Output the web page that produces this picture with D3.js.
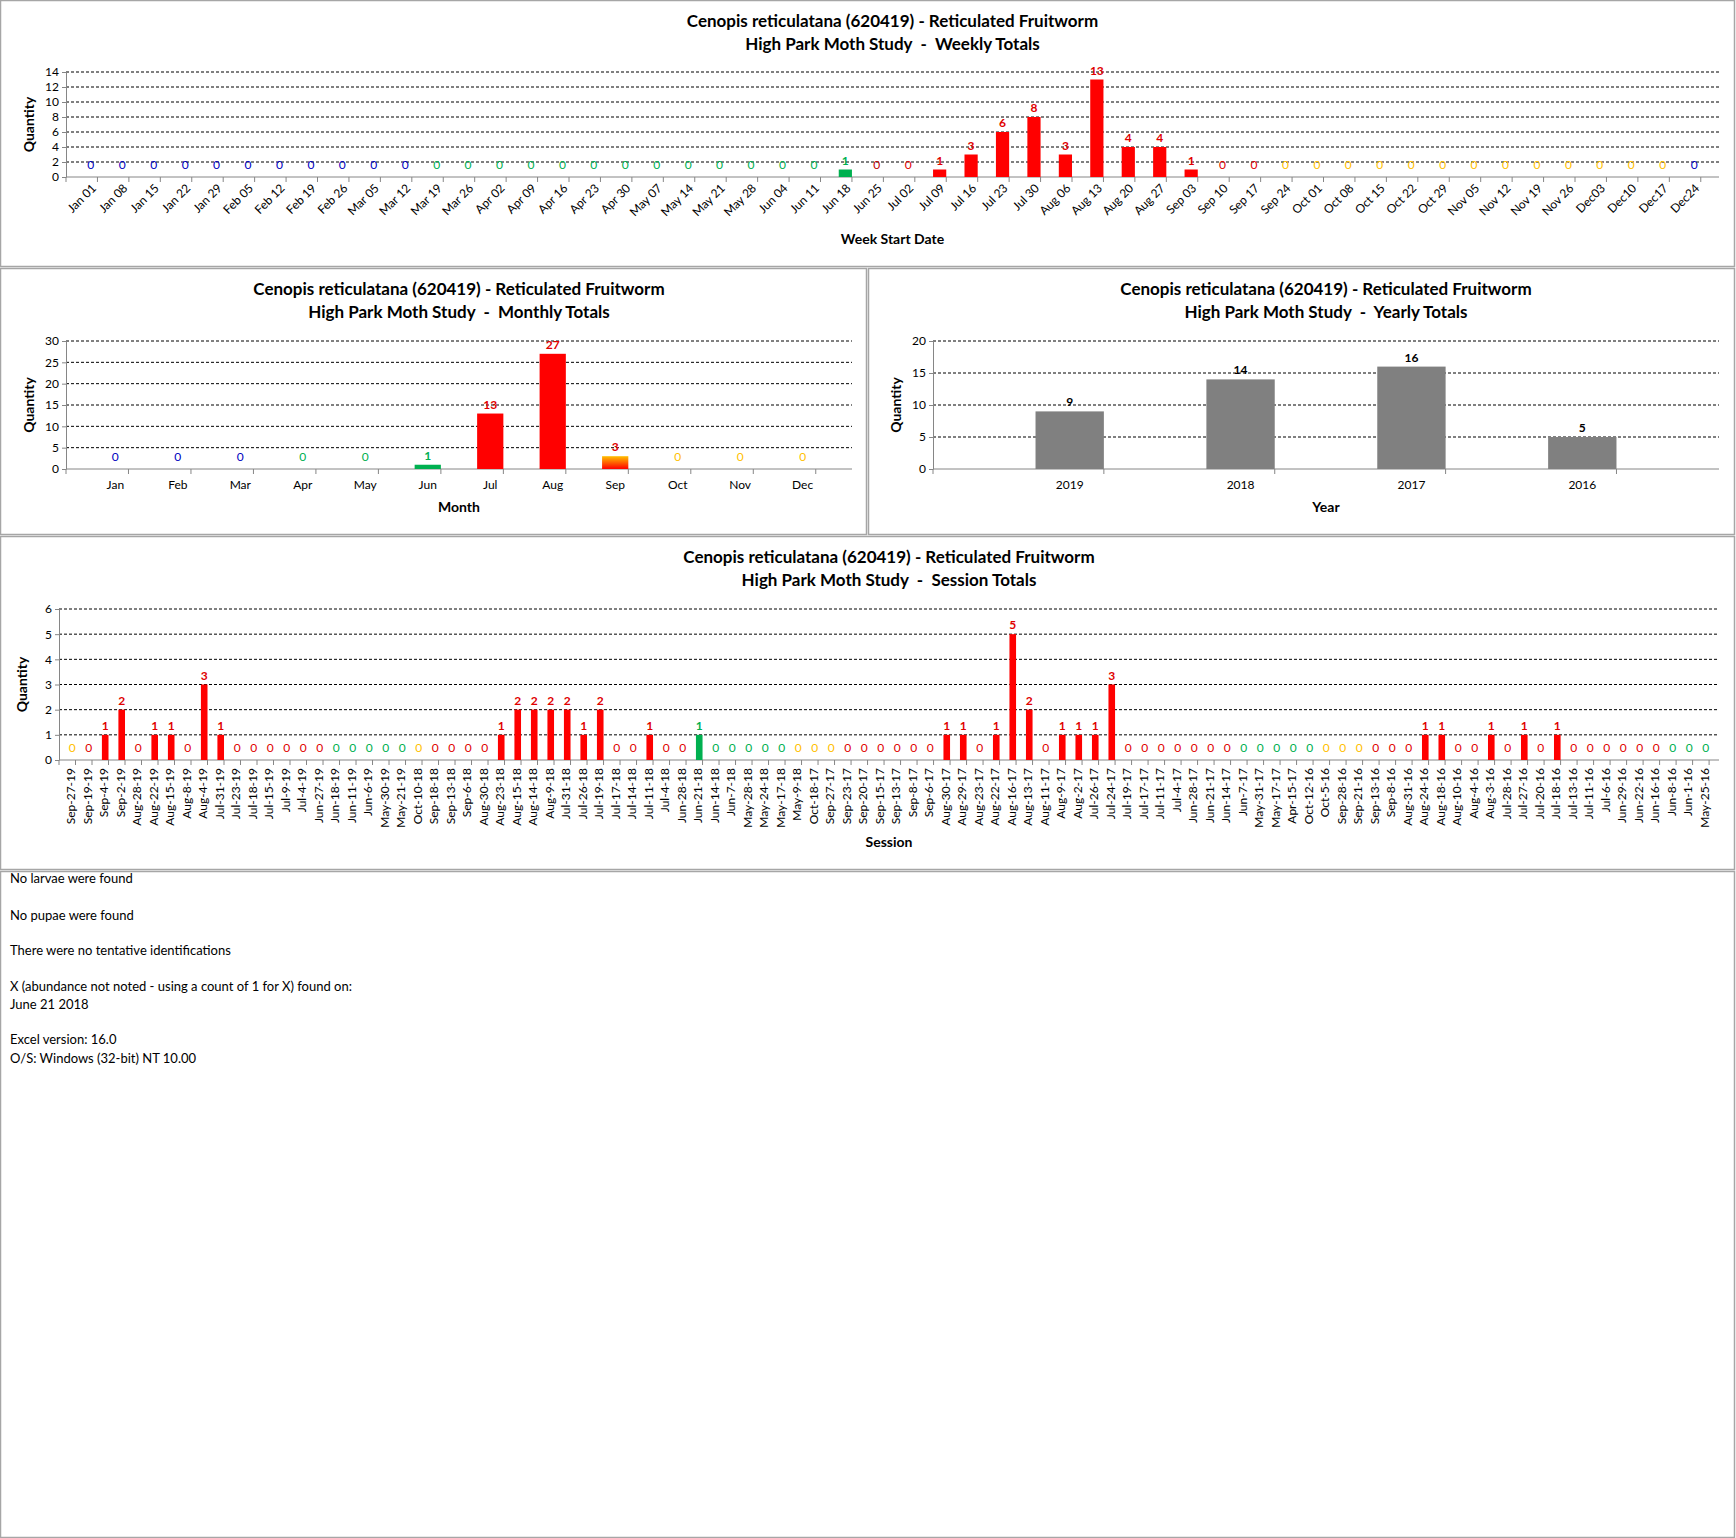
<!DOCTYPE html>
<html><head><meta charset="utf-8">
<script src="https://cdn.jsdelivr.net/npm/d3@7"></script>
<style>
body{margin:0;background:#fff;font-family:Lato,"Open Sans",sans-serif;}
svg text{font-family:Lato,"Open Sans",sans-serif;}
</style></head>
<body><svg id="page" width="1736" height="1538"></svg>
<script>
// ---- data ----
const titleLine1 = "Cenopis reticulatana (620419)  - Reticulated Fruitworm";

const weekLabels = ["Jan 01","Jan 08","Jan 15","Jan 22","Jan 29","Feb 05","Feb 12","Feb 19","Feb 26","Mar 05","Mar 12","Mar 19","Mar 26","Apr 02","Apr 09","Apr 16","Apr 23","Apr 30","May 07","May 14","May 21","May 28","Jun 04","Jun 11","Jun 18","Jun 25","Jul 02","Jul 09","Jul 16","Jul 23","Jul 30","Aug 06","Aug 13","Aug 20","Aug 27","Sep 03","Sep 10","Sep 17","Sep 24","Oct 01","Oct 08","Oct 15","Oct 22","Oct 29","Nov 05","Nov 12","Nov 19","Nov 26","Dec03","Dec10","Dec17","Dec24"];
const weekValues = [0,0,0,0,0,0,0,0,0,0,0,0,0,0,0,0,0,0,0,0,0,0,0,0,1,0,0,1,3,6,8,3,13,4,4,1,0,0,0,0,0,0,0,0,0,0,0,0,0,0,0,0];
const weekColors = "bbbbbbbbbbbggggggggggggggjrrrrrrrrrrrryyyyyyyyyyyyybb";

const monthLabels = ["Jan","Feb","Mar","Apr","May","Jun","Jul","Aug","Sep","Oct","Nov","Dec"];
const monthValues = [0,0,0,0,0,1,13,27,3,0,0,0];
const monthColors = "bbbggjrrsyyy";

const yearLabels = ["2019","2018","2017","2016"];
const yearValues = [9,14,16,5];

const sessionLabels = ["Sep-27-19","Sep-19-19","Sep-4-19","Sep-2-19","Aug-28-19","Aug-22-19","Aug-15-19","Aug-8-19","Aug-4-19","Jul-31-19","Jul-23-19","Jul-18-19","Jul-15-19","Jul-9-19","Jul-4-19","Jun-27-19","Jun-18-19","Jun-11-19","Jun-6-19","May-30-19","May-21-19","Oct-10-18","Sep-18-18","Sep-13-18","Sep-6-18","Aug-30-18","Aug-23-18","Aug-15-18","Aug-14-18","Aug-9-18","Jul-31-18","Jul-26-18","Jul-19-18","Jul-17-18","Jul-14-18","Jul-11-18","Jul-4-18","Jun-28-18","Jun-21-18","Jun-14-18","Jun-7-18","May-28-18","May-24-18","May-17-18","May-9-18","Oct-18-17","Sep-27-17","Sep-23-17","Sep-20-17","Sep-15-17","Sep-13-17","Sep-8-17","Sep-6-17","Aug-30-17","Aug-29-17","Aug-23-17","Aug-22-17","Aug-16-17","Aug-13-17","Aug-11-17","Aug-9-17","Aug-2-17","Jul-26-17","Jul-24-17","Jul-19-17","Jul-17-17","Jul-11-17","Jul-4-17","Jun-28-17","Jun-21-17","Jun-14-17","Jun-7-17","May-31-17","May-17-17","Apr-15-17","Oct-12-16","Oct-5-16","Sep-28-16","Sep-21-16","Sep-13-16","Sep-8-16","Aug-31-16","Aug-24-16","Aug-18-16","Aug-10-16","Aug-4-16","Aug-3-16","Jul-28-16","Jul-27-16","Jul-20-16","Jul-18-16","Jul-13-16","Jul-11-16","Jul-6-16","Jun-29-16","Jun-22-16","Jun-16-16","Jun-8-16","Jun-1-16","May-25-16"];
const sessionValues = [0,0,1,2,0,1,1,0,3,1, 0,0,0,0,0,0,0,0,0,0, 0,0,0,0,0,0,1,2,2,2, 2,1,2,0,0,1,0,0,1,0, 0,0,0,0,0,0,0,0,0,0, 0,0,0,1,1,0,1,5,2,0, 1,1,1,3,0,0,0,0,0,0, 0,0,0,0,0,0,0,0,0,0, 0,0,1,1,0,0,1,0,1,0, 1,0,0,0,0,0,0,0,0,0];
const sessionColors = "yrrrrrrrrrrrrrrrgggggyrrrrrrrrrrrrrrrrggggggyyyrrrrrrrrrrrrrrrrrrrrrrrrgggggyyyrrrrrrrrrrrrrrrrrrgggg";

const notes = ["No larvae were found","No pupae were found","There were no tentative identifications","X (abundance not noted - using a count of 1 for X) found on:","June 21 2018","Excel version: 16.0","O/S: Windows (32-bit) NT 10.00"];

// ---- styles ----
const labelColor = {b:"#0000c0", g:"#00b050", r:"#e00000", y:"#ffc000", j:"#c00000", s:"#e00000"};
const barFill = {b:"#0000c0", g:"#00b050", r:"#ff0000", y:"#ffc000", j:"url(#gJun)", s:"url(#gSep)"};

const svg = d3.select("#page");
const defs = svg.append("defs");
function grad(id, top, bottom) {
  const g = defs.append("linearGradient").attr("id", id).attr("x1",0).attr("x2",0).attr("y1",0).attr("y2",1);
  g.append("stop").attr("offset","0%").attr("stop-color", top);
  g.append("stop").attr("offset","100%").attr("stop-color", bottom);
}
grad("gJun", "#c0301a", "#3f9a10");
grad("gSep", "#ffc000", "#ff0000");

// panel frames
const frames = [[0,0,1734,266],[0,268,866,266],[868,268,866,266],[0,536,1734,333],[0,871,1734,666]];
frames.forEach(f => svg.append("rect").attr("x",f[0]+0.5).attr("y",f[1]+0.5).attr("width",f[2]).attr("height",f[3])
  .attr("fill","none").attr("stroke","#a6a6a6").attr("stroke-width",1.5));

function barChart(c) {
  const x = d3.scaleBand().domain(d3.range(c.labels.length)).range([c.x0, c.x1]).padding(c.pad);
  const y = d3.scaleLinear().domain([0, c.max]).range([c.yb, c.yt]);
  const g = svg.append("g");
  const cx = (c.x0 + c.x1) / 2;

  g.append("text").attr("x", cx).attr("y", c.ty).attr("text-anchor","middle")
    .attr("font-size",17).attr("font-weight","bold").text(titleLine1);
  g.append("text").attr("x", cx).attr("y", c.ty + 23).attr("text-anchor","middle")
    .attr("font-size",17).attr("font-weight","bold").attr("xml:space","preserve").text(c.sub);

  // gridlines
  g.selectAll(".grid").data(y.ticks(c.nticks).filter(v => v > 0)).join("line")
    .attr("x1", c.x0).attr("x2", c.x1).attr("y1", d => y(d)).attr("y2", d => y(d))
    .attr("stroke","#000").attr("stroke-dasharray","3,2").attr("stroke-width",1);

  // y axis
  const ya = g.append("g").attr("transform", `translate(${c.x0},0)`)
    .call(d3.axisLeft(y).ticks(c.nticks).tickSize(4).tickSizeOuter(0));
  ya.select(".domain").attr("stroke","#868686");
  ya.selectAll(".tick line").attr("stroke","#868686");
  ya.selectAll(".tick text").attr("font-size",12).attr("fill","#000");

  g.append("text").attr("transform", `translate(${c.x0 - 32},${(c.yt + c.yb) / 2}) rotate(-90)`)
    .attr("text-anchor","middle").attr("font-size",14).attr("font-weight","bold").text("Quantity");

  // x axis with ticks at category boundaries
  g.append("line").attr("x1", c.x0).attr("x2", c.x1).attr("y1", c.yb).attr("y2", c.yb).attr("stroke","#868686");
  const step = x.step();
  g.selectAll(".xt").data(d3.range(c.labels.length + 1)).join("line")
    .attr("x1", i => c.x0 + i * step).attr("x2", i => c.x0 + i * step)
    .attr("y1", c.yb).attr("y2", c.yb + 5).attr("stroke","#868686");

  const bc = i => x(i) + x.bandwidth() / 2;
  const lab = g.selectAll(".xl").data(c.labels).join("text").attr("font-size", c.lfs).attr("fill","#000").text(d => d);
  if (c.rot === 0) lab.attr("x", (d, i) => bc(i)).attr("y", c.yb + 20).attr("text-anchor","middle");
  else if (c.rot === -45) lab.attr("text-anchor","end")
    .attr("transform", (d, i) => `translate(${bc(i) + 6},${c.yb + 12}) rotate(-45)`);
  else lab.attr("text-anchor","end").attr("dominant-baseline","middle")
    .attr("transform", (d, i) => `translate(${bc(i)},${c.yb + 8}) rotate(-90)`);

  g.append("text").attr("x", cx).attr("y", c.xty).attr("text-anchor","middle")
    .attr("font-size",14).attr("font-weight","bold").text(c.xtitle);

  // bars
  g.selectAll(".bar").data(c.values).join("rect")
    .attr("x", (d, i) => x(i)).attr("width", x.bandwidth())
    .attr("y", d => y(d)).attr("height", d => c.yb - y(d))
    .attr("fill", (d, i) => c.colors ? barFill[c.colors[i]] : "#808080");

  // data labels
  g.selectAll(".dl").data(c.values).join("text")
    .attr("x", (d, i) => bc(i)).attr("y", d => d > 0 ? y(d) - 5 : c.yb - 8)
    .attr("text-anchor","middle").attr("font-size", c.dfs)
    .attr("font-weight", d => (d > 0 ? "bold" : "normal"))
    .attr("fill", (d, i) => c.colors ? (d > 0 ? (c.colors[i] === "j" ? "#c00000" : c.colors[i] === "g" ? "#00b050" : "#e00000") : labelColor[c.colors[i]]) : "#000")
    .text(d => d);
}

barChart({labels: weekLabels, values: weekValues, colors: weekColors, max: 14, nticks: 7,
  x0: 66, x1: 1719, yt: 72, yb: 177, pad: 0.58, ty: 27, sub: "High Park Moth Study  -  Weekly Totals",
  rot: -45, lfs: 12, dfs: 12, xtitle: "Week Start Date", xty: 244});

monthColors; // months: Jun uses gradient "j" label green
barChart({labels: monthLabels, values: monthValues, colors: monthColors.replace("j","g").split("").map((c,i)=> i===5 ? "g" : c), max: 30, nticks: 6,
  x0: 66, x1: 852, yt: 341, yb: 469, pad: 0.58, ty: 295, sub: "High Park Moth Study  -  Monthly Totals",
  rot: 0, lfs: 12, dfs: 12, xtitle: "Month", xty: 512});
// month Jun bar gets the gradient
svg.selectAll("g").filter((d, i, n) => i === 1);

barChart({labels: yearLabels, values: yearValues, colors: null, max: 20, nticks: 4,
  x0: 933, x1: 1719, yt: 341, yb: 469, pad: 0.6, ty: 295, sub: "High Park Moth Study  -  Yearly Totals",
  rot: 0, lfs: 12, dfs: 12, xtitle: "Year", xty: 512});

barChart({labels: sessionLabels, values: sessionValues, colors: sessionColors, max: 6, nticks: 6,
  x0: 59, x1: 1719, yt: 609, yb: 760, pad: 0.6, ty: 563, sub: "High Park Moth Study  -  Session Totals",
  rot: -90, lfs: 12, dfs: 12, xtitle: "Session", xty: 847});

// Jun monthly bar should use the green/red gradient
d3.selectAll("g").filter((d, i) => i === 1).selectAll("rect").filter((d, i) => i === 5).attr("fill","url(#gJun)");

// notes
const noteY = [883, 920, 955, 991, 1009, 1044, 1063];
svg.selectAll(".note").data(notes).join("text")
  .attr("x", 10).attr("y", (d, i) => noteY[i]).attr("font-size",13).attr("fill","#000").text(d => d);
</script></body></html>
